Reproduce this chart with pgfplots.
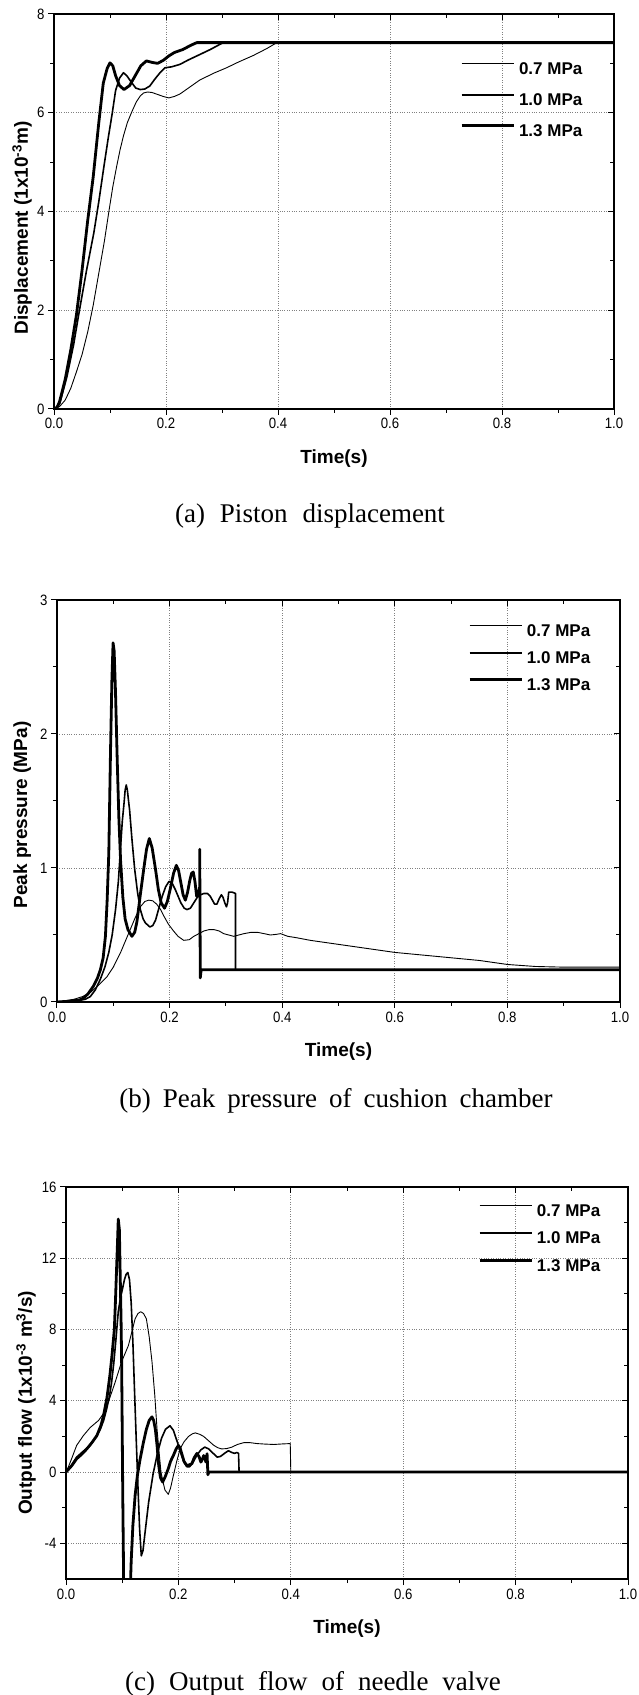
\documentclass[border=0pt]{standalone}
\usepackage{fontspec}
\setmainfont{Liberation Sans}
\newfontfamily\tickfont{Liberation Sans}[FakeStretch=0.88]
\newfontfamily\capfont{Liberation Serif}
\usepackage{pgfplots}
\pgfplotsset{compat=1.18}
\pgfplotsset{legend image code/.code={\draw[#1] (0pt,6pt) -- (52pt,6pt);}}
\pgfplotsset{
  myaxis/.style={
    scale only axis,
    xmin=0, xmax=1,
    xtick={0,0.2,0.4,0.6,0.8,1},
    minor x tick num=1, minor y tick num=1,
    tick align=outside, xtick pos=left, ytick pos=left,
    major tick length=6pt, minor tick length=4pt,
    every tick/.style={black, line width=1pt},
    axis line style={line width=1.3pt},
    grid=major,
    major grid style={dotted, line width=0.9pt, gray},
    /pgf/number format/assume math mode=true,
    xticklabel style={font=\tickfont\fontsize{15}{16}\selectfont,
      /pgf/number format/fixed, /pgf/number format/fixed zerofill,
      /pgf/number format/precision=1},
    yticklabel style={font=\tickfont\fontsize{15}{16}\selectfont},
    label style={font=\bfseries\fontsize{19}{21}\selectfont},
    xlabel style={at={(axis description cs:0.5,0)}, anchor=center, yshift=-50pt},
    ylabel style={anchor=center},
    legend style={draw=none, fill=none, anchor=north west, inner sep=0pt,
      column sep=4pt,
      font=\bfseries\fontsize{17}{18}\selectfont,
      nodes={inner sep=0pt, text height=12pt, text depth=3pt}},
    legend cell align=left,
  },
  frameticks/.style={
    scale only axis,
    xmin=0, xmax=1,
    xtick={0,0.2,0.4,0.6,0.8,1},
    minor x tick num=1, minor y tick num=1,
    tick align=inside, xtick pos=right, ytick pos=right,
    xticklabels={}, yticklabels={},
    major tick length=6pt, minor tick length=4pt,
    every tick/.style={black, line width=1pt},
    axis line style={line width=1.3pt},
  },
  p07/.style={black, line width=0.9pt, line join=round},
  p10/.style={black, line width=1.6pt, line join=round},
  p13/.style={black, line width=2.8pt, line join=round},
}
\begin{document}
\begin{tikzpicture}[x=1pt,y=1pt]
\useasboundingbox (0,0) rectangle (638,1695);

% ---------------- (a) ----------------
\begin{axis}[myaxis, at={(54pt,1286pt)}, anchor=south west, width=560pt, height=395pt,
  ymin=0, ymax=8, ytick={0,2,4,6,8},
  xlabel={Time(s)}, ylabel={Displacement (1x10\textsuperscript{-3}m)},
  ylabel style={at={(axis description cs:-0.057,0.458)}},
  legend style={at={(axis description cs:0.725,0.878)}, row sep=16pt}]
\addplot[p07] coordinates {(0,0) (0.01,0.05) (0.02,0.18) (0.03,0.42) (0.04,0.75) (0.05,1.1) (0.06,1.55) (0.07,2.1) (0.08,2.75) (0.09,3.4) (0.098,4.0) (0.105,4.5) (0.112,4.92) (0.118,5.25) (0.124,5.53) (0.131,5.8) (0.139,6.02) (0.147,6.22) (0.154,6.34) (0.16,6.4) (0.167,6.42) (0.175,6.41) (0.185,6.37) (0.195,6.33) (0.205,6.3) (0.215,6.33) (0.225,6.38) (0.24,6.5) (0.26,6.66) (0.285,6.8) (0.308,6.91) (0.33,7.03) (0.356,7.16) (0.38,7.3) (0.398,7.42) (1,7.42)};
\addlegendentry{0.7 MPa}
\addplot[p10] coordinates {(0,0) (0.01,0.1) (0.023,0.65) (0.035,1.3) (0.045,1.97) (0.058,2.8) (0.071,3.56) (0.08,4.2) (0.089,4.9) (0.097,5.5) (0.104,5.99) (0.11,6.45) (0.117,6.7) (0.124,6.81) (0.13,6.75) (0.138,6.62) (0.146,6.5) (0.154,6.47) (0.162,6.48) (0.171,6.54) (0.18,6.68) (0.19,6.82) (0.198,6.91) (0.21,6.93) (0.225,6.98) (0.24,7.07) (0.255,7.15) (0.279,7.28) (0.302,7.42) (1,7.42)};
\addlegendentry{1.0 MPa}
\addplot[p13] coordinates {(0,0) (0.005,0.02) (0.01,0.15) (0.02,0.6) (0.03,1.2) (0.04,1.9) (0.05,2.8) (0.06,3.8) (0.07,4.7) (0.08,5.8) (0.088,6.6) (0.095,6.9) (0.1,7.01) (0.105,6.95) (0.11,6.75) (0.117,6.55) (0.125,6.47) (0.135,6.55) (0.145,6.75) (0.155,6.95) (0.165,7.05) (0.175,7.02) (0.185,7.0) (0.195,7.06) (0.205,7.15) (0.215,7.22) (0.23,7.28) (0.245,7.37) (0.255,7.42) (1,7.42)};
\addlegendentry{1.3 MPa}
\end{axis}
\begin{axis}[frameticks, at={(54pt,1286pt)}, anchor=south west, width=560pt, height=395pt,
  ymin=0, ymax=8, ytick={0,2,4,6,8}]
\end{axis}

% ---------------- (b) ----------------
\begin{axis}[myaxis, at={(57pt,693pt)}, anchor=south west, width=563pt, height=402pt,
  ymin=0, ymax=3, ytick={0,1,2,3},
  xlabel={Time(s)}, ylabel={Peak pressure (MPa)},
  ylabel style={at={(axis description cs:-0.062,0.465)}},
  legend style={at={(axis description cs:0.73,0.94)}, row sep=12pt}]
\addplot[p07] coordinates {(0,0) (0.03,0.02) (0.045,0.04) (0.059,0.07) (0.075,0.13) (0.089,0.19) (0.1,0.26) (0.113,0.37) (0.122,0.46) (0.13,0.54) (0.139,0.63) (0.148,0.71) (0.156,0.75) (0.163,0.76) (0.17,0.755) (0.177,0.73) (0.184,0.69) (0.19,0.64) (0.198,0.58) (0.207,0.53) (0.215,0.49) (0.225,0.46) (0.235,0.465) (0.243,0.49) (0.252,0.51) (0.261,0.53) (0.27,0.54) (0.279,0.54) (0.288,0.53) (0.296,0.51) (0.305,0.5) (0.314,0.49) (0.323,0.5) (0.332,0.51) (0.345,0.52) (0.356,0.52) (0.368,0.51) (0.379,0.5) (0.39,0.505) (0.397,0.51) (0.41,0.49) (0.425,0.48) (0.45,0.46) (0.5,0.43) (0.55,0.4) (0.6,0.37) (0.65,0.35) (0.7,0.33) (0.75,0.31) (0.8,0.28) (0.85,0.265) (0.9,0.26) (1,0.26)};
\addlegendentry{0.7 MPa}
\addplot[p10] coordinates {(0,0) (0.03,0.005) (0.05,0.02) (0.059,0.04) (0.068,0.09) (0.077,0.17) (0.085,0.26) (0.092,0.37) (0.098,0.5) (0.104,0.69) (0.109,0.9) (0.113,1.16) (0.116,1.35) (0.119,1.48) (0.121,1.58) (0.123,1.62) (0.125,1.58) (0.129,1.43) (0.133,1.22) (0.138,0.99) (0.143,0.82) (0.148,0.69) (0.153,0.62) (0.157,0.59) (0.165,0.56) (0.17,0.57) (0.175,0.61) (0.181,0.7) (0.187,0.79) (0.193,0.86) (0.199,0.9) (0.204,0.89) (0.21,0.84) (0.215,0.79) (0.22,0.74) (0.226,0.7) (0.231,0.69) (0.237,0.7) (0.243,0.74) (0.249,0.78) (0.255,0.8) (0.261,0.81) (0.267,0.81) (0.272,0.79) (0.276,0.76) (0.28,0.73) (0.284,0.73) (0.288,0.77) (0.292,0.8) (0.295,0.78) (0.298,0.74) (0.301,0.71) (0.303,0.74) (0.305,0.82) (0.311,0.82) (0.317,0.81) (0.317,0.24) (1,0.24)};
\addlegendentry{1.0 MPa}
\addplot[p13] coordinates {(0,0) (0.02,0.005) (0.04,0.015) (0.047,0.03) (0.055,0.06) (0.065,0.12) (0.072,0.18) (0.077,0.24) (0.082,0.33) (0.086,0.49) (0.089,0.75) (0.092,1.11) (0.095,1.86) (0.0975,2.4) (0.0996,2.68) (0.1015,2.62) (0.104,2.3) (0.107,1.8) (0.11,1.36) (0.113,1.05) (0.117,0.78) (0.121,0.62) (0.126,0.54) (0.133,0.49) (0.138,0.52) (0.142,0.6) (0.148,0.8) (0.154,0.99) (0.159,1.14) (0.164,1.22) (0.169,1.15) (0.175,0.99) (0.18,0.84) (0.185,0.74) (0.191,0.7) (0.196,0.75) (0.201,0.84) (0.207,0.96) (0.212,1.02) (0.216,0.98) (0.22,0.89) (0.224,0.8) (0.228,0.76) (0.232,0.82) (0.236,0.91) (0.239,0.96) (0.242,0.97) (0.245,0.9) (0.248,0.79) (0.251,0.8) (0.2535,0.86) (0.2535,1.14) (0.2545,0.18) (0.256,0.24) (1,0.24)};
\addlegendentry{1.3 MPa}
\end{axis}
\begin{axis}[frameticks, at={(57pt,693pt)}, anchor=south west, width=563pt, height=402pt,
  ymin=0, ymax=3, ytick={0,1,2,3}]
\end{axis}

% ---------------- (c) ----------------
\begin{axis}[myaxis, at={(66pt,116pt)}, anchor=south west, width=562pt, height=392pt,
  ymin=-6, ymax=16, ytick={-4,0,4,8,12,16},
  xlabel={Time(s)}, ylabel={Output flow (1x10\textsuperscript{-3} m\textsuperscript{3}/s)},
  ylabel style={at={(axis description cs:-0.071,0.449)}},
  legend style={at={(axis description cs:0.733,0.957)}, row sep=12.5pt}]
\addplot[p07] coordinates {(0,0) (0.005,0.35) (0.01,0.75) (0.019,1.5) (0.031,2.05) (0.043,2.5) (0.058,2.9) (0.067,3.3) (0.075,3.9) (0.087,5.0) (0.099,6.2) (0.111,7.1) (0.123,8.6) (0.128,8.9) (0.133,9.0) (0.138,8.9) (0.143,8.6) (0.148,7.6) (0.153,6.2) (0.158,4.3) (0.162,2.4) (0.166,1.0) (0.169,0) (0.173,-0.6) (0.176,-1.0) (0.182,-1.25) (0.186,-0.9) (0.191,-0.2) (0.197,0.6) (0.203,1.3) (0.21,1.7) (0.218,2.0) (0.225,2.15) (0.23,2.2) (0.238,2.12) (0.245,2.0) (0.254,1.75) (0.263,1.5) (0.27,1.37) (0.277,1.3) (0.286,1.32) (0.295,1.4) (0.305,1.55) (0.316,1.65) (0.328,1.65) (0.34,1.6) (0.355,1.57) (0.37,1.55) (0.385,1.58) (0.399,1.6) (0.4,0) (1,0)};
\addlegendentry{0.7 MPa}
\addplot[p10] coordinates {(0,0) (0.01,0.4) (0.019,0.84) (0.03,1.15) (0.043,1.5) (0.052,1.9) (0.061,2.4) (0.067,2.9) (0.072,3.5) (0.077,4.2) (0.081,5.0) (0.085,6.1) (0.089,7.5) (0.093,9.0) (0.097,9.8) (0.1,10.2) (0.104,10.8) (0.107,11.1) (0.11,11.2) (0.113,10.8) (0.116,9.5) (0.119,7.3) (0.122,4.5) (0.125,1.8) (0.128,-0.8) (0.131,-3.2) (0.134,-4.7) (0.137,-4.4) (0.141,-3.3) (0.147,-1.7) (0.155,-0.1) (0.163,1.1) (0.17,1.9) (0.177,2.4) (0.185,2.6) (0.191,2.35) (0.198,1.7) (0.205,1.0) (0.21,0.55) (0.215,0.3) (0.22,0.3) (0.226,0.55) (0.233,0.95) (0.24,1.25) (0.247,1.4) (0.254,1.3) (0.262,1.05) (0.269,0.84) (0.275,0.88) (0.282,1.05) (0.289,1.2) (0.295,1.1) (0.3,1.05) (0.304,1.1) (0.307,1.05) (0.308,0) (1,0)};
\addlegendentry{1.0 MPa}
\addplot[p13] coordinates {(0,0) (0.01,0.35) (0.019,0.75) (0.028,1.0) (0.037,1.3) (0.046,1.65) (0.055,2.05) (0.062,2.6) (0.067,3.2) (0.073,4.2) (0.078,5.4) (0.082,6.6) (0.086,8.0) (0.088,9.6) (0.09,11.4) (0.092,13.2) (0.093,14.2) (0.095,13.6) (0.096,11.8) (0.098,8.5) (0.099,6.2) (0.1,2.5) (0.101,-1.3) (0.102,-4.3) (0.103,-8) (0.113,-8) (0.116,-5) (0.119,-3) (0.123,-1.3) (0.127,-0.2) (0.132,0.75) (0.138,1.7) (0.143,2.4) (0.148,2.9) (0.153,3.1) (0.156,2.9) (0.159,2.4) (0.162,1.5) (0.165,0.37) (0.168,-0.3) (0.172,-0.56) (0.176,-0.3) (0.182,0.19) (0.186,0.6) (0.191,0.93) (0.196,1.3) (0.2,1.5) (0.203,1.35) (0.206,1.03) (0.21,0.6) (0.215,0.37) (0.219,0.4) (0.224,0.47) (0.228,0.8) (0.233,1.05) (0.237,0.85) (0.24,0.56) (0.243,0.75) (0.245,0.93) (0.247,0.75) (0.249,0.56) (0.251,1.03) (0.2525,-0.15) (0.254,0) (1,0)};
\addlegendentry{1.3 MPa}
\end{axis}
\begin{axis}[frameticks, at={(66pt,116pt)}, anchor=south west, width=562pt, height=392pt,
  ymin=-6, ymax=16, ytick={-4,0,4,8,12,16}]
\end{axis}

% captions
\node[anchor=base, font=\capfont\fontsize{27}{30}\selectfont] at (310,1172) {\spaceskip=15pt (a) Piston displacement};
\node[anchor=base, font=\capfont\fontsize{27}{30}\selectfont] at (336,587) {\spaceskip=12pt (b) Peak pressure of cushion chamber};
\node[anchor=base, font=\capfont\fontsize{27}{30}\selectfont] at (313,5) {\spaceskip=14pt (c) Output flow of needle valve};
\end{tikzpicture}
\end{document}
